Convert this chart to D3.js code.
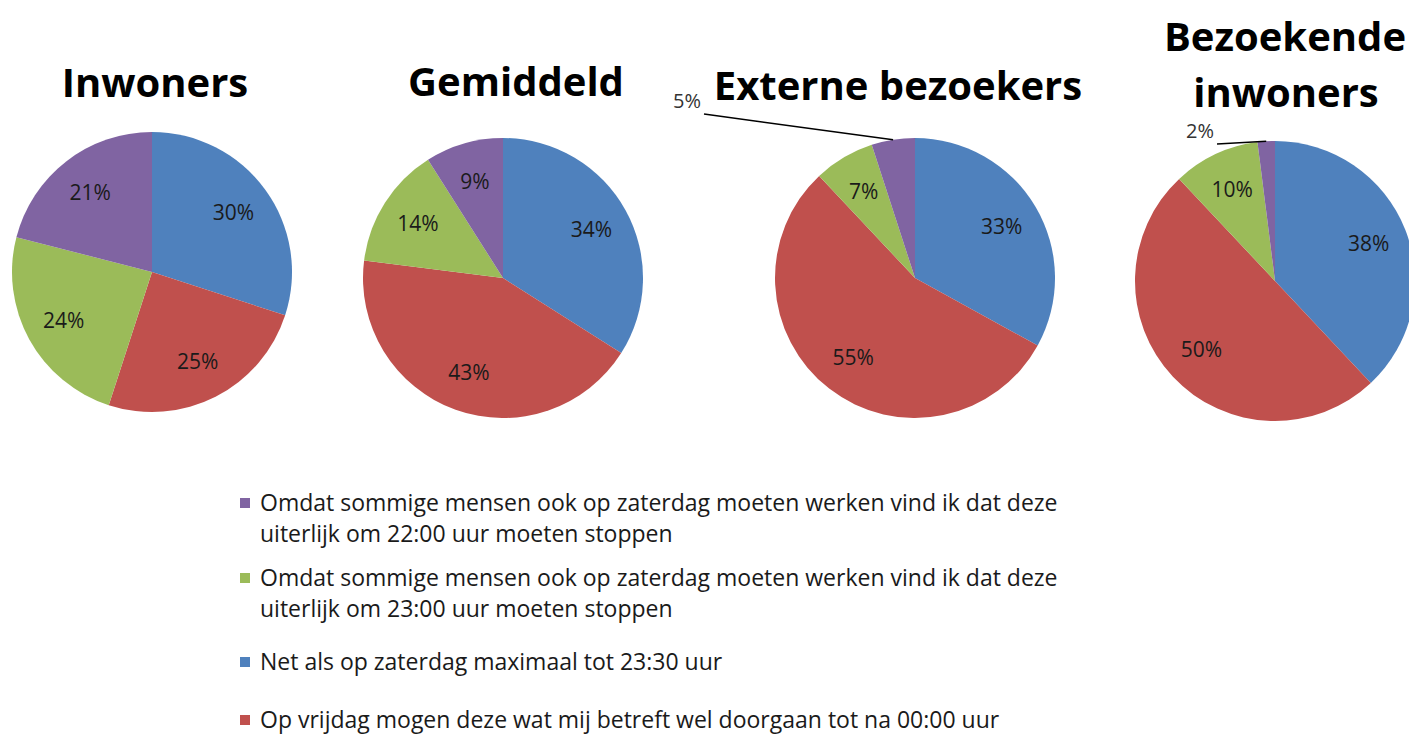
<!DOCTYPE html>
<html>
<head>
<meta charset="utf-8">
<script src="https://cdn.jsdelivr.net/npm/d3@7"></script>
<style>
  body { margin: 0; background: #fff; }
  svg { display: block; font-family: "Open Sans", Lato, sans-serif; }
</style>
</head>
<body>
<div id="chart"></div>
<script>
// answer options, in slice order (clockwise from 12 o'clock)
var categories = ["Net als op zaterdag maximaal tot 23:30 uur",
  "Op vrijdag mogen deze wat mij betreft wel doorgaan tot na 00:00 uur",
  "Omdat sommige mensen ook op zaterdag moeten werken vind ik dat deze uiterlijk om 23:00 uur moeten stoppen",
  "Omdat sommige mensen ook op zaterdag moeten werken vind ik dat deze uiterlijk om 22:00 uur moeten stoppen"];
var colors = ["#4f81bd", "#c0504d", "#9bbb59", "#8064a2"];

var groups = ["Inwoners", "Gemiddeld", "Externe bezoekers", "Bezoekende inwoners"];
var inwoners = [30, 25, 24, 21];
var gemiddeld = [34, 43, 14, 9];
var externe = [33, 55, 7, 5];
var bezoekende = [38, 50, 10, 2];
var series = [inwoners, gemiddeld, externe, bezoekende];

// legend runs purple, green, blue, red
var legendOrder = [3, 2, 0, 1];

var w = 1409, h = 734;

var svg = d3.select("#chart").append("svg")
  .attr("width", w)
  .attr("height", h);

var R = 140;
var centers = [[152, 272], [503, 278], [915, 278], [1275, 281]];
var titleLines = [[["Inwoners", 155, 97]], [["Gemiddeld", 516, 96]], [["Externe bezoekers", 898, 100]],
  [["Bezoekende", 1285, 51], ["inwoners", 1286, 107]]];
// where the small slices get their outside label (offset from pie centre)
var outside = { 2: [-214, -170], 3: [-61, -143] };

var pie = d3.pie().sort(null).value(function(d) { return d; });
var arc = d3.arc().innerRadius(0).outerRadius(R);
var labelArc = d3.arc().innerRadius(R * 0.72).outerRadius(R * 0.72);

var gp = svg.selectAll(".pie")
  .data(series)
.enter().append("g")
  .attr("class", "pie")
  .attr("transform", function(d, i) { return "translate(" + centers[i][0] + "," + centers[i][1] + ")"; });

gp.selectAll("path")
  .data(function(d) { return pie(d); })
.enter().append("path")
  .attr("d", arc)
  .attr("fill", function(d, i) { return colors[i]; });

gp.each(function(vals, p) {
  var g = d3.select(this);
  pie(vals).forEach(function(a, i) {
    var small = outside[p] && i == 3;
    if (!small) {
      var c = labelArc.centroid(a);
      g.append("text")
        .attr("x", c[0])
        .attr("y", c[1])
        .attr("dy", ".35em")
        .attr("text-anchor", "middle")
        .style("font-size", "21px")
        .style("fill", "#1a1a1a")
        .text(vals[i] + "%");
    } else {
      var mid = (a.startAngle + a.endAngle) / 2;
      var ex = R * Math.sin(mid), ey = -R * Math.cos(mid);
      var o = outside[p];
      g.append("path")
        .attr("d", "M" + (o[0] + 3) + "," + (o[1] + 6) + "L" + ex + "," + ey)
        .attr("stroke", "#000")
        .attr("stroke-width", 1.5)
        .attr("fill", "none");
      g.append("text")
        .attr("x", o[0])
        .attr("y", o[1])
        .attr("text-anchor", "end")
        .style("font-size", "20px")
        .style("fill", "#333")
        .text(vals[i] + "%");
    }
  });
});

// titles
titleLines.forEach(function(lines) {
  lines.forEach(function(l) {
    svg.append("text")
      .attr("x", l[1])
      .attr("y", l[2])
      .attr("text-anchor", "middle")
      .style("font-size", "40px")
      .style("font-weight", "bold")
      .style("fill", "#000")
      .text(l[0]);
  });
});

// legend
var legendY = [503, 578, 662, 720];
var gl = svg.selectAll(".legend")
  .data(legendOrder)
.enter().append("g")
  .attr("class", "legend")
  .attr("transform", function(d, i) { return "translate(240," + legendY[i] + ")"; });

gl.append("rect")
  .attr("x", 0)
  .attr("y", -5)
  .attr("width", 10)
  .attr("height", 10)
  .attr("fill", function(d) { return colors[d]; });

gl.each(function(d) {
  var t = categories[d];
  var lines = t.length > 70 ? [t.slice(0, t.indexOf(" uiterlijk")), t.slice(t.indexOf("uiterlijk"))] : [t];
  var txt = d3.select(this).append("text")
    .style("font-size", "23px")
    .style("fill", "#1a1a1a");
  lines.forEach(function(s, k) {
    txt.append("tspan")
      .attr("x", 20)
      .attr("y", k * 31)
      .attr("dy", ".35em")
      .text(s);
  });
});
</script>
</body>
</html>
